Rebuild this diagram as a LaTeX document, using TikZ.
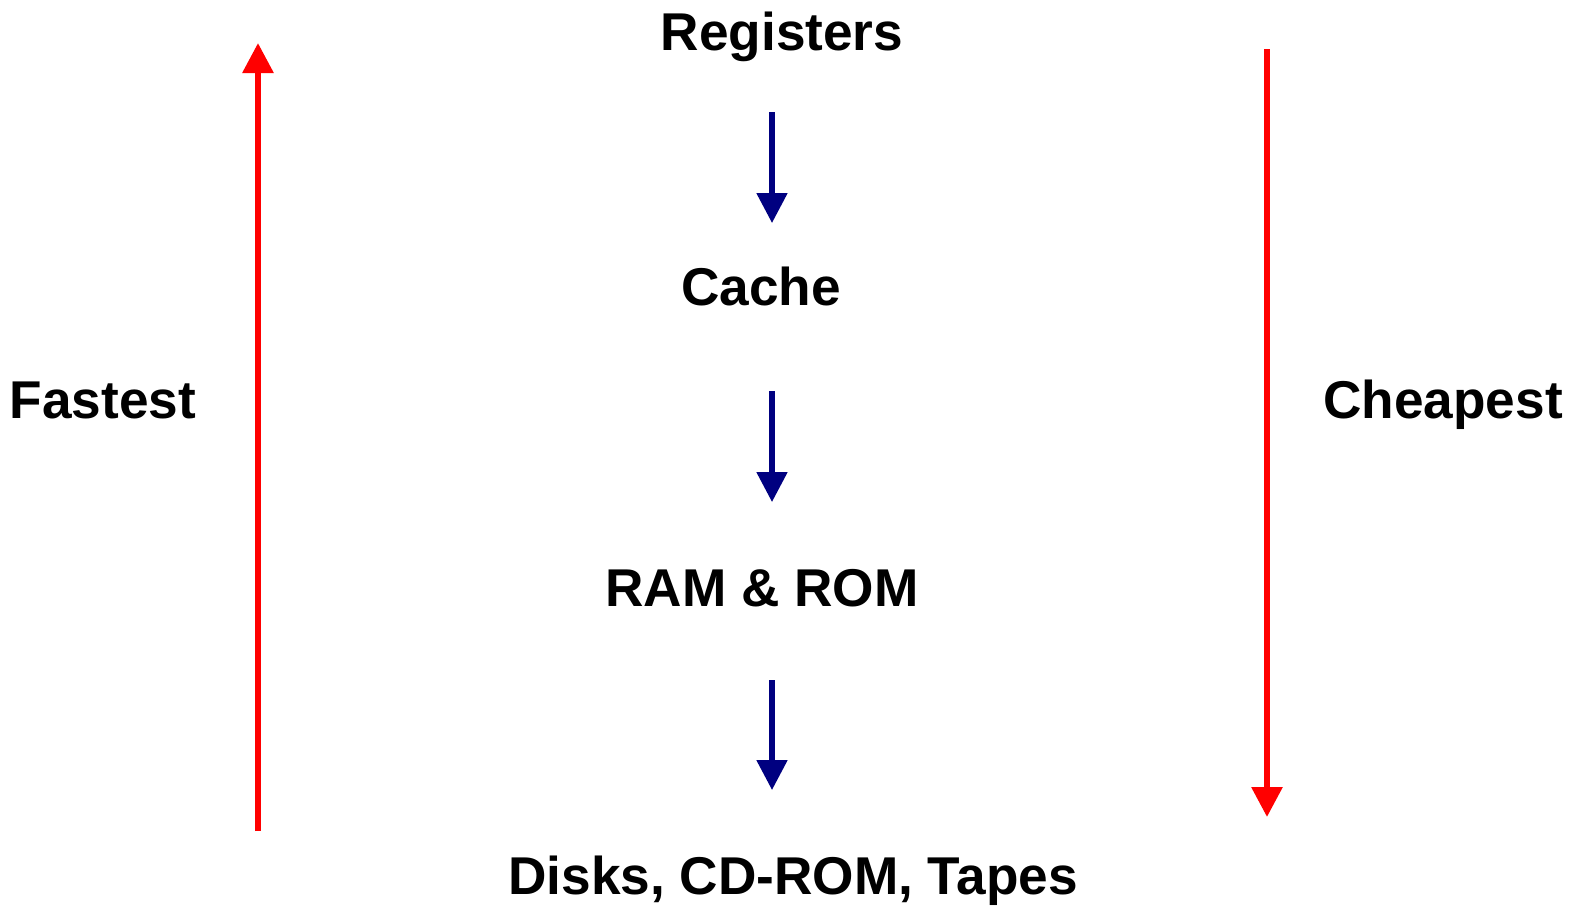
\documentclass[tikz,border=0pt]{standalone}
\usepackage{fontspec}
\setmainfont{Liberation Sans}
\usetikzlibrary{arrows.meta}
\definecolor{navyblue}{RGB}{0,0,128}

\begin{document}
\begin{tikzpicture}[x=0.5pt, y=-0.5pt]
\tikzstyle{level}=[anchor=base, inner sep=0pt, font=\fontsize{26.6}{32}\selectfont\bfseries]
\tikzstyle{down}=[-{Triangle[width=15pt, length=15pt]}, line width=2.6pt, draw=navyblue]
\tikzstyle{trend}=[-{Triangle[width=15pt, length=15pt]}, line width=3pt, draw=red]
\useasboundingbox (0,0) rectangle (1581,906);
  % memory levels
  \node[level] (reg) at (782,50) {Registers};
  \node[level] (cache) at (761,305) {Cache};
  \node[level] (ram) at (762,606) {RAM \& ROM};
  \node[level] (disk) at (793,894) {Disks, CD-ROM, Tapes};
  % side labels
  \node[level] (fast) at (103,418) {Fastest};
  \node[level] (cheap) at (1443,418) {Cheapest};
  % arrow ends
  \coordinate (a1) at (772,112);
  \coordinate (b1) at (772,223);
  \coordinate (a2) at (772,391);
  \coordinate (b2) at (772,502);
  \coordinate (a3) at (772,680);
  \coordinate (b3) at (772,790);
  \coordinate (fbot) at (258,831);
  \coordinate (ftop) at (258,43);
  \coordinate (ctop) at (1267,49);
  \coordinate (cbot) at (1267,817);
  \path (a1) edge [down] (b1)
        (a2) edge [down] (b2)
        (a3) edge [down] (b3)
        (fbot) edge [trend] (ftop)
        (ctop) edge [trend] (cbot);
\end{tikzpicture}
\end{document}
